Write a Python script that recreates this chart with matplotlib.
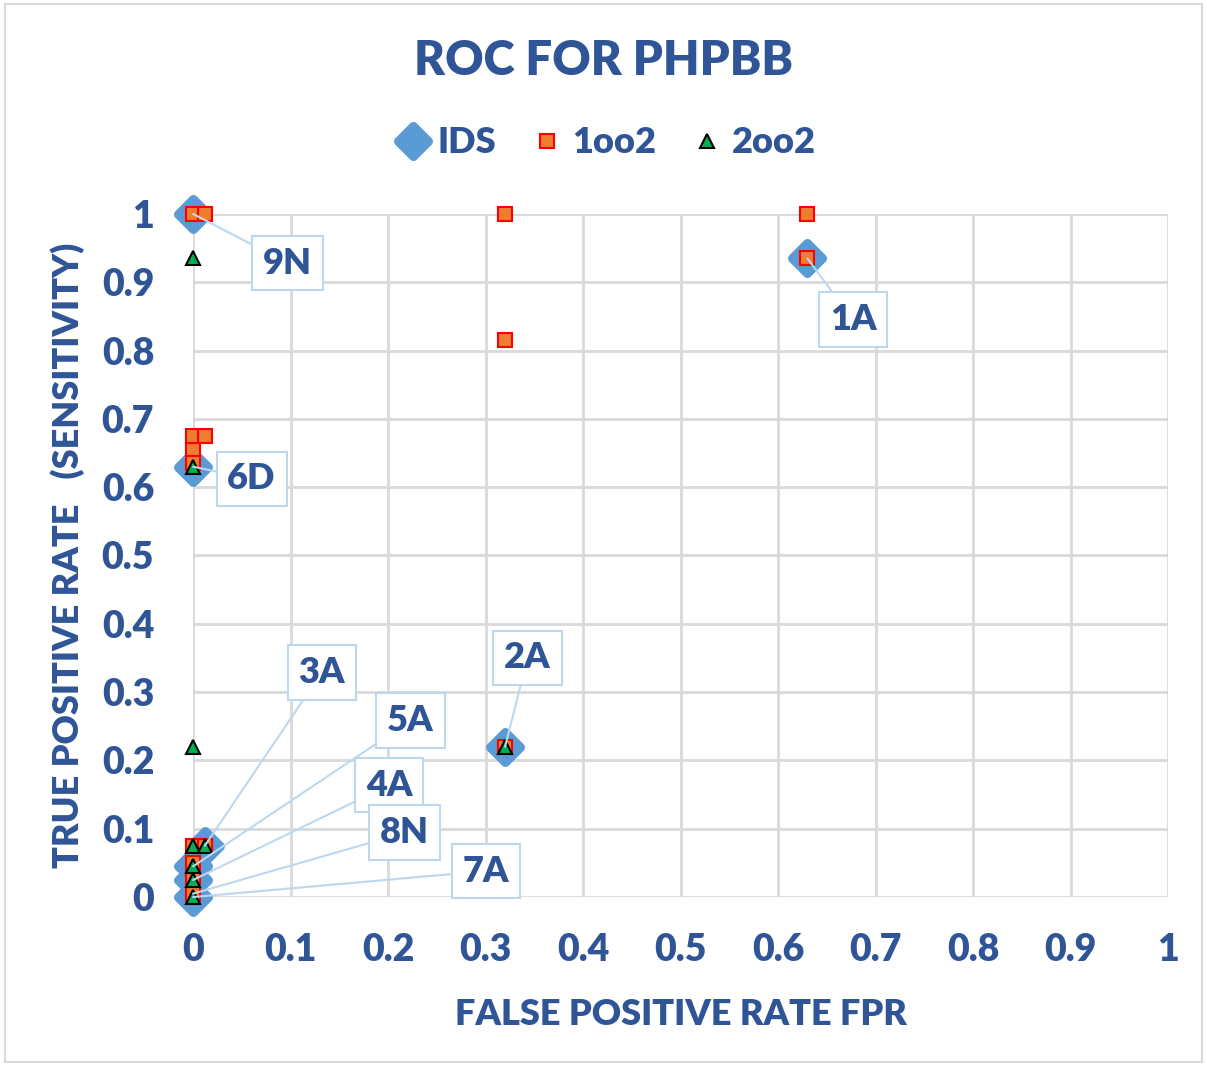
import matplotlib.pyplot as plt
from matplotlib.patches import Rectangle
from matplotlib.markers import MarkerStyle

# data
ids_fpr = [0, 0.63, 0, 0.32, 0.012, 0, 0, 0]
ids_tpr = [1, 0.935, 0.63, 0.22, 0.075, 0.045, 0.025, 0]

oo1_fpr = [0, 0.012, 0.32, 0.63, 0.32, 0.63, 0, 0.012, 0, 0, 0.32, 0, 0.012, 0, 0, 0]
oo1_tpr = [1, 1, 1, 1, 0.815, 0.935, 0.675, 0.675, 0.655, 0.635, 0.22, 0.075, 0.075, 0.05, 0.03, 0.005]

oo2_fpr = [0, 0, 0, 0.32, 0, 0.012, 0, 0, 0]
oo2_tpr = [0.935, 0.63, 0.22, 0.22, 0.075, 0.075, 0.045, 0.025, 0]

labels = ['9N', '1A', '6D', '2A', '3A', '5A', '4A', '8N', '7A']
label_pts = [(0, 1), (0.63, 0.935), (0, 0.63), (0.32, 0.22), (0.012, 0.075),
             (0, 0.045), (0, 0.025), (0, 0.005), (0, 0)]
label_pos = [(0.097, 0.928), (0.677, 0.845), (0.06, 0.612), (0.343, 0.35), (0.132, 0.329),
             (0.223, 0.258), (0.201, 0.164), (0.217, 0.094), (0.30, 0.038)]

ticks = [0, 0.1, 0.2, 0.3, 0.4, 0.5, 0.6, 0.7, 0.8, 0.9, 1]
tick_labels = ['0', '0.1', '0.2', '0.3', '0.4', '0.5', '0.6', '0.7', '0.8', '0.9', '1']

navy = '#2F5597'
plt.rcParams['font.family'] = ['Lato', 'DejaVu Sans']
plt.rcParams['font.weight'] = 'heavy'

fig = plt.figure(figsize=(12.07, 10.66), dpi=100)
ax = fig.add_axes([0.16, 0.1585, 0.8077, 0.6408])

diamond = MarkerStyle('D', joinstyle='round')
ax.plot(ids_fpr, ids_tpr, ls='none', marker=diamond, ms=15, color='#5B9BD5',
        mec='#5B9BD5', mew=6.5, label='IDS', clip_on=False, zorder=3)
ax.plot(oo1_fpr, oo1_tpr, 's', ms=10, color='#ED7D31', mec='#FF0000', mew=1.5,
        label='1oo2', clip_on=False, zorder=4)
ax.plot(oo2_fpr, oo2_tpr, '^', ms=10, color='#00B050', mec='black', mew=1.5,
        label='2oo2', clip_on=False, zorder=5)

for lab, pt, pos in zip(labels, label_pts, label_pos):
    ax.annotate(lab, xy=pt, xytext=pos, fontsize=26, fontweight='heavy', color=navy,
                ha='center', va='center', zorder=6,
                bbox=dict(boxstyle='square,pad=0.3', fc='white', ec='#BDD7EE', lw=1.5),
                arrowprops=dict(arrowstyle='-', color='#BDD7EE', lw=1.5,
                                shrinkA=0, shrinkB=0))

ax.set_xlim(0, 1)
ax.set_ylim(0, 1)
ax.set_xticks(ticks)
ax.set_xticklabels(tick_labels)
ax.set_yticks(ticks)
ax.set_yticklabels(tick_labels)
ax.tick_params(length=0, labelsize=27, labelcolor=navy)
ax.tick_params(axis='x', pad=26)
ax.tick_params(axis='y', pad=28)
ax.grid(True, color='#D9D9D9', lw=2)
ax.set_axisbelow(True)
for s in ax.spines.values():
    s.set_visible(False)

ax.set_xlabel('FALSE POSITIVE RATE FPR', fontsize=26, fontweight='heavy', color=navy, labelpad=22)
ax.set_ylabel('TRUE POSITIVE RATE   (SENSITIVITY)', fontsize=26, fontweight='heavy',
              color=navy, labelpad=12)
fig.suptitle('ROC FOR PHPBB', x=0.5, y=0.963, fontsize=34, fontweight='heavy', color=navy)

leg = fig.legend(loc='center', bbox_to_anchor=(0.5, 0.866), ncol=3, frameon=False,
                 fontsize=26, handletextpad=0.1, columnspacing=0.8, handlelength=1.2)
for t in leg.get_texts():
    t.set_color(navy)

fig.patches.append(Rectangle((0.004, 0.004), 0.992, 0.992, transform=fig.transFigure,
                             fill=False, ec='#D9D9D9', lw=1.5))

fig.savefig('out.png', dpi=100)
